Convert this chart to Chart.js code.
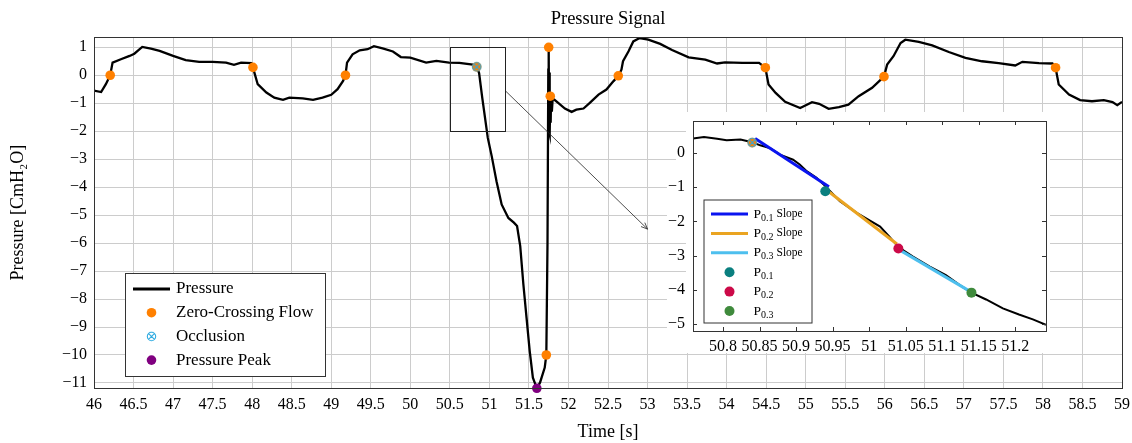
<!DOCTYPE html>
<html>
<head>
<meta charset="utf-8">
<title>Pressure Signal</title>
<script src="https://cdn.jsdelivr.net/npm/chart.js@4.4.1/dist/chart.umd.min.js"></script>
<style>
  html, body { margin: 0; padding: 0; background: #fff; }
  #wrap { position: relative; width: 1132px; height: 443px; }
  #mainChart { position: absolute; left: 0; top: 0; }
  #zoomChart { position: absolute; left: 650px; top: 108px; }
</style>
</head>
<body>
<div id="wrap">
  <canvas id="mainChart" width="1132" height="443"></canvas>
  <canvas id="zoomChart" width="402" height="250"></canvas>
</div>
<script>
/**
 * datos
 */
const time = [
  46.00, 46.09, 46.15, 46.205, 46.235, 46.34, 46.45, 46.51, 46.61, 46.72, 46.83, 47.00,
  47.16, 47.33, 47.50, 47.67, 47.77, 47.86, 47.99, 48.01, 48.04, 48.07, 48.18, 48.28,
  48.39, 48.47, 48.64, 48.77, 48.89, 49.00, 49.08, 49.15, 49.18, 49.20, 49.27, 49.36,
  49.46, 49.54, 49.65, 49.78, 49.88, 50.00, 50.20, 50.33, 50.49, 50.62, 50.79, 50.84,
  50.87, 50.91, 50.98, 51.03, 51.09, 51.155, 51.24, 51.31, 51.35, 51.39, 51.43, 51.47,
  51.51, 51.55, 51.60, 51.64, 51.70, 51.72, 51.735, 51.745, 51.75, 51.755, 51.76, 51.765,
  51.77, 51.775, 51.78, 51.79, 51.80, 51.82, 51.87, 51.955, 52.04, 52.10, 52.19, 52.27,
  52.38, 52.48, 52.57, 52.63, 52.67, 52.69, 52.76, 52.82, 52.90, 53.01, 53.16, 53.31,
  53.52, 53.73, 53.88, 53.98, 54.20, 54.41, 54.49, 54.53, 54.62, 54.74, 54.93, 55.08,
  55.17, 55.29, 55.42, 55.54, 55.67, 55.84, 55.99, 56.03, 56.11, 56.20, 56.26, 56.43,
  56.60, 56.81, 57.02, 57.23, 57.44, 57.65, 57.74, 57.95, 58.12, 58.16, 58.20, 58.33,
  58.47, 58.62, 58.77, 58.88, 58.94, 59.00
]
const pressure = [
  -0.55, -0.60, -0.32, 0.00, 0.45, 0.57, 0.69, 0.77, 1.01, 0.95, 0.87, 0.69,
  0.54, 0.48, 0.48, 0.45, 0.37, 0.45, 0.43, 0.27, -0.02, -0.32, -0.62, -0.80,
  -0.88, -0.80, -0.83, -0.88, -0.80, -0.70, -0.50, -0.20, 0.00, 0.45, 0.75, 0.89,
  0.93, 1.04, 0.96, 0.85, 0.65, 0.63, 0.45, 0.51, 0.45, 0.44, 0.38, 0.30,
  0.08, -0.81, -2.24, -2.90, -3.79, -4.62, -5.10, -5.27, -5.39, -6.11, -7.48, -8.67,
  -9.86, -10.81, -11.19, -10.99, -10.45, -10.00, -6.00, 0.20, 1.00, -2.00, 0.10, -2.10,
  -0.75, -1.70, -0.80, -1.30, -0.85, -0.87, -0.99, -1.19, -1.31, -1.23, -1.19, -0.99,
  -0.69, -0.51, -0.21, -0.03, 0.20, 0.50, 0.86, 1.21, 1.33, 1.27, 1.12, 0.90,
  0.64, 0.56, 0.42, 0.46, 0.44, 0.44, 0.27, -0.33, -0.63, -0.95, -1.17, -0.96,
  -1.02, -1.20, -1.14, -1.05, -0.75, -0.45, -0.05, 0.38, 0.68, 1.15, 1.27, 1.19,
  1.07, 0.83, 0.62, 0.50, 0.43, 0.35, 0.48, 0.43, 0.42, 0.27, -0.33, -0.69,
  -0.89, -0.93, -0.89, -0.96, -1.07, -0.95
]

const zeroCrossTime = [46.205, 48.01, 49.18, 50.84, 51.72, 51.75, 51.77, 52.63, 54.49, 55.99, 58.16]
const zeroCrossPressure = [0.00, 0.28, 0.00, 0.30, -10.00, 1.00, -0.75, -0.02, 0.27, -0.05, 0.27]
const occlusionTime = [50.84]
const occlusionPressure = [0.30]
const peakTime = [51.60]
const peakPressure = [-11.19]

const xTicks = [46, 46.5, 47, 47.5, 48, 48.5, 49, 49.5, 50, 50.5, 51, 51.5, 52, 52.5,
  53, 53.5, 54, 54.5, 55, 55.5, 56, 56.5, 57, 57.5, 58, 58.5, 59]
const yTicks = [1, 0, -1, -2, -3, -4, -5, -6, -7, -8, -9, -10, -11]

// recuadro del zoom y flecha (en unidades de los ejes)
const zoomBoxTime = [50.5, 51.2]
const zoomBoxPressure = [-2, 1]
const arrowTime = [51.2, 53.0]
const arrowPressure = [-0.55, -5.5]

// datos del zoom
const zoomTime = [
  50.759, 50.774, 50.792, 50.805, 50.824, 50.840, 50.851, 50.865, 50.878, 50.896,
  50.905, 50.915, 50.928, 50.940, 50.960, 50.983, 51.015, 51.028, 51.040, 51.060,
  51.083, 51.105, 51.124, 51.140, 51.160, 51.183, 51.205, 51.224, 51.242
]
const zoomPressure = [
  0.42, 0.46, 0.41, 0.37, 0.39, 0.31, 0.22, 0.13, -0.05, -0.20,
  -0.34, -0.54, -0.73, -0.97, -1.41, -1.75, -2.15, -2.45, -2.75, -3.03,
  -3.32, -3.57, -3.86, -4.08, -4.28, -4.54, -4.72, -4.86, -5.02
]
const slope01Time = [50.844, 50.945]
const slope01Pressure = [0.42, -0.99]
const slope02Time = [50.944, 51.038]
const slope02Pressure = [-1.12, -2.66]
const slope03Time = [51.042, 51.137]
const slope03Pressure = [-2.84, -4.03]
const pTime = [50.940, 51.040, 51.140]
const pPressure = [-1.12, -2.79, -4.08]

const zoomXTicks = [50.8, 50.85, 50.9, 50.95, 51, 51.05, 51.1, 51.15, 51.2]
const zoomYTicks = [0, -1, -2, -3, -4, -5]

const SERIF = "'Liberation Serif', 'Times New Roman', serif"

function toPoints(xs, ys) {
  return xs.map((x, i) => ({ x: x, y: ys[i] }))
}

function formatTick(value) {
  const v = Math.round(value * 1000) / 1000
  return String(v).replace('-', '\u2212')
}

/** marca de oclusion: circulo con una x */
function makeOtimes(color) {
  const c = document.createElement('canvas')
  c.width = 11
  c.height = 11
  const g = c.getContext('2d')
  const r = 4.2
  const d = r * Math.SQRT1_2
  g.strokeStyle = color
  g.lineWidth = 1.1
  g.beginPath()
  g.arc(5.5, 5.5, r, 0, Math.PI * 2)
  g.moveTo(5.5 - d, 5.5 - d)
  g.lineTo(5.5 + d, 5.5 + d)
  g.moveTo(5.5 + d, 5.5 - d)
  g.lineTo(5.5 - d, 5.5 + d)
  g.stroke()
  return c
}

/** texto con subindice tipo P_{0.1} Slope */
function drawLabel(ctx, text, x, y, fonts) {
  const m = text.match(/^(.*?)_\{(.*?)\}(.*)$/)
  ctx.textBaseline = 'middle'
  ctx.textAlign = 'left'
  ctx.fillStyle = '#000'
  if (!m) {
    ctx.font = fonts.main + 'px ' + SERIF
    ctx.fillText(text, x, y)
    return
  }
  ctx.font = fonts.main + 'px ' + SERIF
  ctx.fillText(m[1], x, y)
  x += ctx.measureText(m[1]).width
  ctx.font = fonts.sub + 'px ' + SERIF
  ctx.fillText(m[2], x, y + 4)
  x += ctx.measureText(m[2]).width + 3
  ctx.font = fonts.rest + 'px ' + SERIF
  ctx.fillText(m[3].trim(), x, y)
}

// marco del area de grafico (con marcas hacia adentro opcionales)
const frame = {
  id: 'frame',
  afterDraw(chart, args, opts) {
    const { ctx, chartArea: a, scales } = chart
    ctx.save()
    ctx.strokeStyle = '#333'
    ctx.lineWidth = 1
    ctx.strokeRect(Math.round(a.left) + 0.5, Math.round(a.top) + 0.5,
      Math.round(a.right - a.left), Math.round(a.bottom - a.top))
    const t = opts.tickLength || 0
    if (t > 0) {
      ctx.beginPath()
      scales.x.ticks.forEach(tk => {
        const px = Math.round(scales.x.getPixelForValue(tk.value)) + 0.5
        ctx.moveTo(px, a.bottom); ctx.lineTo(px, a.bottom - t)
        ctx.moveTo(px, a.top); ctx.lineTo(px, a.top + t)
      })
      scales.y.ticks.forEach(tk => {
        const py = Math.round(scales.y.getPixelForValue(tk.value)) + 0.5
        ctx.moveTo(a.left, py); ctx.lineTo(a.left + t, py)
        ctx.moveTo(a.right, py); ctx.lineTo(a.right - t, py)
      })
      ctx.stroke()
    }
    ctx.restore()
  }
}

// leyenda en caja, dibujada dentro del grafico
const boxLegend = {
  id: 'boxLegend',
  afterDraw(chart, args, opts) {
    if (!opts.display) return
    const ctx = chart.ctx
    ctx.save()
    ctx.fillStyle = '#fff'
    ctx.fillRect(opts.left, opts.top, opts.width, opts.height)
    ctx.strokeStyle = '#333'
    ctx.lineWidth = 1
    ctx.strokeRect(opts.left, opts.top, opts.width, opts.height)
    let row = 0
    chart.data.datasets.forEach(ds => {
      if (ds.inLegend === false) return
      const y = opts.firstRow + row * opts.rowGap
      const cx = opts.sampleX + opts.sampleW / 2
      if (ds.showLine !== false) {
        ctx.strokeStyle = ds.borderColor
        ctx.lineWidth = opts.lineWidth
        ctx.beginPath()
        ctx.moveTo(opts.sampleX, y)
        ctx.lineTo(opts.sampleX + opts.sampleW, y)
        ctx.stroke()
      } else if (ds.pointStyle && typeof ds.pointStyle === 'object') {
        ctx.drawImage(ds.pointStyle, cx - ds.pointStyle.width / 2, y - ds.pointStyle.height / 2)
      } else {
        ctx.fillStyle = ds.backgroundColor
        ctx.beginPath()
        ctx.arc(cx, y, ds.pointRadius, 0, Math.PI * 2)
        ctx.fill()
      }
      drawLabel(ctx, ds.label, opts.textX, y, opts.fonts)
      row++
    })
    ctx.restore()
  }
}

// recuadro de la zona ampliada y la flecha hacia el zoom
const zoomMarker = {
  id: 'zoomMarker',
  afterDatasetsDraw(chart) {
    const { ctx, scales: { x, y } } = chart
    const x0 = x.getPixelForValue(zoomBoxTime[0])
    const x1 = x.getPixelForValue(zoomBoxTime[1])
    const y0 = y.getPixelForValue(zoomBoxPressure[1])
    const y1 = y.getPixelForValue(zoomBoxPressure[0])
    ctx.save()
    ctx.strokeStyle = '#222'
    ctx.lineWidth = 1
    ctx.strokeRect(Math.round(x0) + 0.5, Math.round(y0) + 0.5, Math.round(x1 - x0), Math.round(y1 - y0))

    const ax = x.getPixelForValue(arrowTime[0])
    const ay = y.getPixelForValue(arrowPressure[0])
    const bx = x.getPixelForValue(arrowTime[1])
    const by = y.getPixelForValue(arrowPressure[1])
    const ang = Math.atan2(by - ay, bx - ax)
    ctx.lineWidth = 0.8
    ctx.beginPath()
    ctx.moveTo(ax, ay)
    ctx.lineTo(bx, by)
    ctx.moveTo(bx - 7 * Math.cos(ang - 0.4), by - 7 * Math.sin(ang - 0.4))
    ctx.lineTo(bx, by)
    ctx.lineTo(bx - 7 * Math.cos(ang + 0.4), by - 7 * Math.sin(ang + 0.4))
    ctx.stroke()
    ctx.restore()
  }
}

// fondo blanco del zoom para tapar la grilla principal
const whiteBack = {
  id: 'whiteBack',
  beforeDraw(chart, args, opts) {
    if (!opts.display) return
    const ctx = chart.ctx
    ctx.save()
    ctx.fillStyle = '#fff'
    ctx.fillRect(opts.left, opts.top, opts.right - opts.left, opts.bottom - opts.top)
    ctx.restore()
  }
}

document.addEventListener('DOMContentLoaded', () => {
  const otimes = makeOtimes('#2aa9e0')
  const tickFont = { family: SERIF, size: 16 }

  new Chart(document.getElementById('mainChart'), {
    type: 'line',
    data: {
      datasets: [
        { label: 'Pressure', data: toPoints(time, pressure), borderColor: '#000', borderWidth: 2.3,
          pointRadius: 0, tension: 0, order: 4 },
        { label: 'Zero-Crossing Flow', data: toPoints(zeroCrossTime, zeroCrossPressure), showLine: false,
          pointRadius: 4.8, backgroundColor: '#ff8000', borderColor: '#ff8000', pointBorderWidth: 0, clip: false, order: 3 },
        { label: 'Occlusion', data: toPoints(occlusionTime, occlusionPressure), showLine: false,
          pointStyle: otimes, pointRadius: 5, borderColor: '#2aa9e0', clip: false, order: 1 },
        { label: 'Pressure Peak', data: toPoints(peakTime, peakPressure), showLine: false,
          pointRadius: 4.8, backgroundColor: '#800080', borderColor: '#800080', pointBorderWidth: 0, clip: false, order: 2 }
      ]
    },
    options: {
      responsive: false,
      animation: false,
      events: [],
      layout: { padding: { left: 0, right: 10, top: 0, bottom: 0 } },
      plugins: {
        legend: { display: false },
        tooltip: { enabled: false },
        title: {
          display: true, text: 'Pressure Signal', fullSize: false, color: '#000',
          font: { family: SERIF, size: 18.5, weight: 'normal' }, padding: { top: 8, bottom: 7 }
        },
        boxLegend: {
          display: true, left: 125.5, top: 273.5, width: 200, height: 103,
          firstRow: 289, rowGap: 23.7, sampleX: 133, sampleW: 37, textX: 176, lineWidth: 3,
          fonts: { main: 17, sub: 11, rest: 17 }
        },
        frame: { tickLength: 0 }
      },
      scales: {
        x: {
          type: 'linear', min: 46, max: 59,
          afterBuildTicks: s => { s.ticks = xTicks.map(v => ({ value: v })) },
          afterFit: s => { s.height = 55; s.paddingLeft = 0; s.paddingRight = 0 },
          grid: { color: '#cccccc', drawTicks: false },
          border: { display: false },
          ticks: { autoSkip: false, maxRotation: 0, padding: 7, color: '#000', font: tickFont, callback: formatTick },
          title: { display: true, text: 'Time [s]', color: '#000', font: { family: SERIF, size: 18 }, padding: { top: 0, bottom: 0 } }
        },
        y: {
          type: 'linear', min: -11.18, max: 1.36,
          afterBuildTicks: s => { s.ticks = yTicks.map(v => ({ value: v })) },
          afterFit: s => { s.width = 94; s.paddingTop = 0; s.paddingBottom = 0 },
          grid: { color: '#cccccc', drawTicks: false },
          border: { display: false },
          ticks: { autoSkip: false, padding: 7, color: '#000', font: tickFont, callback: formatTick },
          title: { display: true, text: 'Pressure [CmH\u2082O]', color: '#000', font: { family: SERIF, size: 18 }, padding: { top: 7, bottom: 0 } }
        }
      }
    },
    plugins: [frame, zoomMarker, boxLegend]
  })

  new Chart(document.getElementById('zoomChart'), {
    type: 'line',
    data: {
      datasets: [
        { label: 'Pressure', data: toPoints(zoomTime, zoomPressure), borderColor: '#000', borderWidth: 2,
          pointRadius: 0, tension: 0, inLegend: false, order: 10 },
        { label: 'P_{0.1} Slope', data: toPoints(slope01Time, slope01Pressure), borderColor: '#0a14f0', borderWidth: 3,
          pointRadius: 0, order: 6 },
        { label: 'P_{0.2} Slope', data: toPoints(slope02Time, slope02Pressure), borderColor: '#eaa421', borderWidth: 3,
          pointRadius: 0, order: 6 },
        { label: 'P_{0.3} Slope', data: toPoints(slope03Time, slope03Pressure), borderColor: '#4dbfee', borderWidth: 3,
          pointRadius: 0, order: 6 },
        { label: 'P_{0.1}', data: toPoints(pTime.slice(0, 1), pPressure.slice(0, 1)), showLine: false,
          pointRadius: 5, backgroundColor: '#0a7f7f', borderColor: '#0a7f7f', pointBorderWidth: 0, order: 3 },
        { label: 'P_{0.2}', data: toPoints(pTime.slice(1, 2), pPressure.slice(1, 2)), showLine: false,
          pointRadius: 5, backgroundColor: '#cc0a48', borderColor: '#cc0a48', pointBorderWidth: 0, order: 3 },
        { label: 'P_{0.3}', data: toPoints(pTime.slice(2, 3), pPressure.slice(2, 3)), showLine: false,
          pointRadius: 5, backgroundColor: '#3f8a3c', borderColor: '#3f8a3c', pointBorderWidth: 0, order: 3 },
        { label: 'Zero-Crossing Flow', data: toPoints(occlusionTime, occlusionPressure), showLine: false,
          pointRadius: 4.8, backgroundColor: '#ff8000', borderColor: '#ff8000', pointBorderWidth: 0, inLegend: false, order: 2 },
        { label: 'Occlusion', data: toPoints(occlusionTime, occlusionPressure), showLine: false,
          pointStyle: otimes, pointRadius: 5, borderColor: '#2aa9e0', inLegend: false, order: 1 }
      ]
    },
    options: {
      responsive: false,
      animation: false,
      events: [],
      layout: { padding: { left: 0, right: 5, top: 13, bottom: 0 } },
      plugins: {
        legend: { display: false },
        tooltip: { enabled: false },
        whiteBack: { display: true, left: 36, top: 4, right: 400, bottom: 245 },
        boxLegend: {
          display: true, left: 54, top: 92, width: 108, height: 123,
          firstRow: 106, rowGap: 19.4, sampleX: 61, sampleW: 37, textX: 103.5, lineWidth: 3,
          fonts: { main: 13.5, sub: 10, rest: 11.5 }
        },
        frame: { tickLength: 4 }
      },
      scales: {
        x: {
          type: 'linear', min: 50.759, max: 51.242,
          afterBuildTicks: s => { s.ticks = zoomXTicks.map(v => ({ value: v })) },
          afterFit: s => { s.height = 27; s.paddingLeft = 0; s.paddingRight = 0 },
          grid: { display: false, drawTicks: false },
          border: { display: false },
          ticks: { autoSkip: false, maxRotation: 0, padding: 6, color: '#000', font: tickFont, callback: formatTick }
        },
        y: {
          type: 'linear', min: -5.2, max: 0.93,
          afterBuildTicks: s => { s.ticks = zoomYTicks.map(v => ({ value: v })) },
          afterFit: s => { s.width = 43; s.paddingTop = 0; s.paddingBottom = 0 },
          grid: { display: false, drawTicks: false },
          border: { display: false },
          ticks: { autoSkip: false, padding: 8, color: '#000', font: tickFont, callback: formatTick,
            showLabelBackdrop: true, backdropColor: '#fff', backdropPadding: 1 }
        }
      }
    },
    plugins: [whiteBack, frame, boxLegend]
  })
})
</script>
</body>
</html>
